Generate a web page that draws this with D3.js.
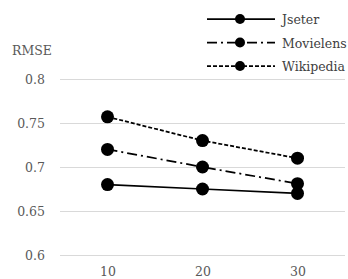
<!DOCTYPE html>
<html>
<head>
<meta charset="utf-8">
<script src="https://cdn.jsdelivr.net/npm/d3@7"></script>
<style>
  body { margin: 0; background: #fff; }
</style>
</head>
<body>
<div id="chart"></div>
<script>
// data
var categories = ["10", "20", "30"];
var seriesNames = ["Jseter", "Movielens", "Wikipedia"];
var jseter = [0.68, 0.675, 0.67];
var movielens = [0.72, 0.70, 0.681];
var wikipedia = [0.757, 0.73, 0.71];
var yTicks = [0.6, 0.65, 0.7, 0.75, 0.8];

var serif = "'DejaVu Serif', serif";

var series = [
  { name: seriesNames[0], values: jseter, dash: null },
  { name: seriesNames[1], values: movielens, dash: "10,4,2,4" },
  { name: seriesNames[2], values: wikipedia, dash: "4,2" }
];

var width = 348, height = 279;

var svg = d3.select("#chart")
  .append("svg")
  .attr("width", width)
  .attr("height", height)
  .attr("font-family", serif);

var x = d3.scalePoint()
  .domain(categories)
  .range([60, 345])
  .padding(0.5);

var y = d3.scaleLinear()
  .domain([0.6, 0.8])
  .range([255, 79]);

// y axis: gridlines + labels
var yAxis = g => g
  .attr("transform", "translate(60,0)")
  .call(d3.axisLeft(y).tickValues(yTicks).tickSize(-285).tickPadding(15)
    .tickFormat(d => d3.format("")(+d.toFixed(2))))
  .attr("font-family", serif)
  .attr("font-size", 12.5)
  .call(g => g.select(".domain").remove())
  .call(g => g.selectAll(".tick line").attr("stroke", "#d9d9d9").attr("stroke-width", 1))
  .call(g => g.selectAll(".tick text").attr("fill", "#595959"));

var xAxis = g => g
  .attr("transform", "translate(0,255)")
  .call(d3.axisBottom(x).tickSize(0).tickPadding(12))
  .attr("font-family", serif)
  .attr("font-size", 12.5)
  .call(g => g.select(".domain").remove())
  .call(g => g.selectAll(".tick text").attr("fill", "#595959"));

svg.append("g").call(yAxis);
svg.append("g").call(xAxis);

svg.append("text")
  .attr("x", 12)
  .attr("y", 55)
  .attr("fill", "#595959")
  .attr("font-size", 12.5)
  .text("RMSE");

var line = d3.line()
  .x((d, i) => x(categories[i]))
  .y(d => y(d));

series.forEach(function (s) {
  svg.append("path")
    .datum(s.values)
    .attr("fill", "none")
    .attr("stroke", "#000")
    .attr("stroke-width", 1.75)
    .attr("stroke-dasharray", s.dash)
    .attr("d", line);

  svg.selectAll(null)
    .data(s.values)
    .enter()
    .append("circle")
    .attr("cx", (d, i) => x(categories[i]))
    .attr("cy", d => y(d))
    .attr("r", 6.5)
    .attr("fill", "#000");
});

// legend
var legend = svg.append("g");
series.forEach(function (s, i) {
  var ly = 19 + i * 23.5;
  legend.append("line")
    .attr("x1", 207).attr("x2", 275)
    .attr("y1", ly).attr("y2", ly)
    .attr("stroke", "#000")
    .attr("stroke-width", 1.75)
    .attr("stroke-dasharray", s.dash);
  legend.append("circle")
    .attr("cx", 240).attr("cy", ly).attr("r", 5)
    .attr("fill", "#000");
  legend.append("text")
    .attr("x", 282).attr("y", ly + 5)
    .attr("fill", "#404040")
    .attr("font-size", 12.5)
    .text(s.name);
});
</script>
</body>
</html>
